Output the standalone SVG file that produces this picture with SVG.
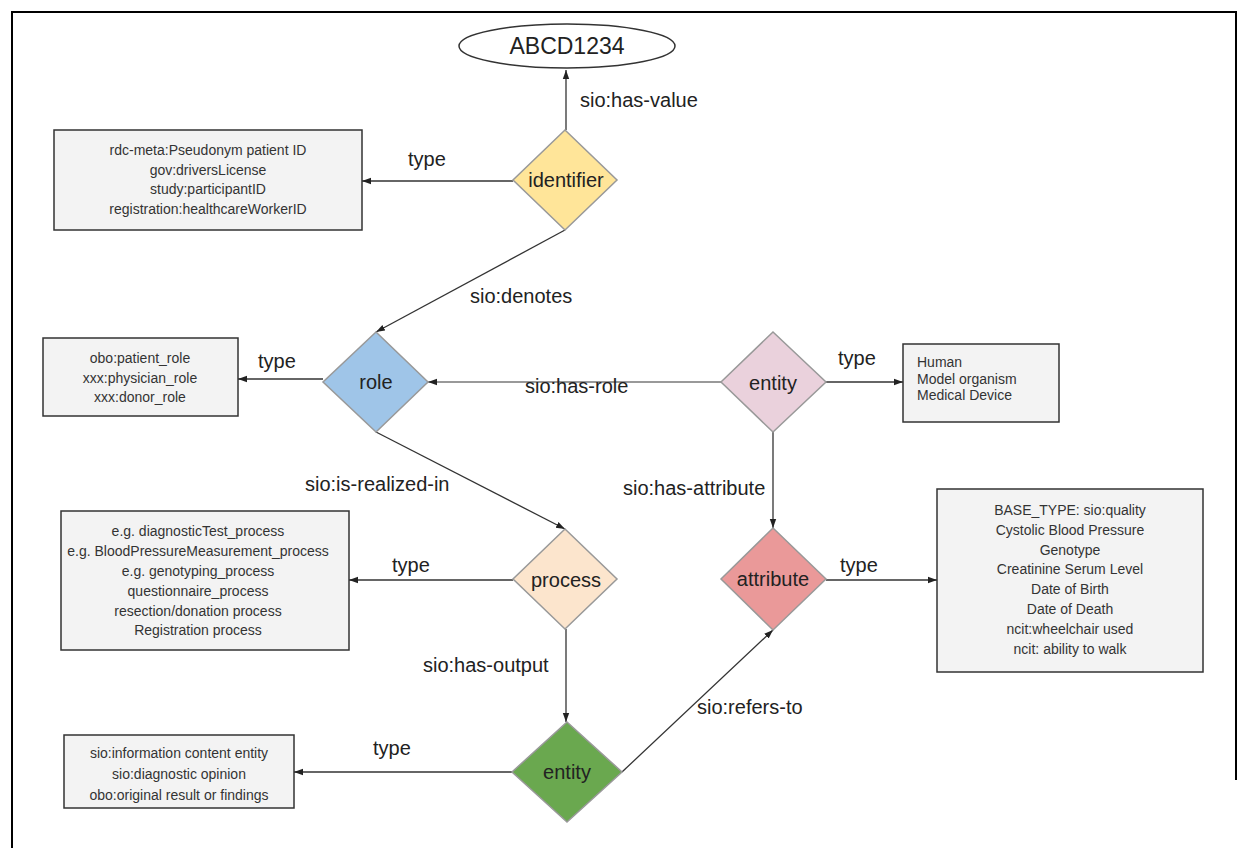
<svg xmlns="http://www.w3.org/2000/svg" width="1248" height="848" viewBox="0 0 1248 848">
<style>
text{font-family:"Liberation Sans",Arial,sans-serif;fill:#222}
.lbl{font-size:20px}
.dtx{font-size:20px;text-anchor:middle}
.btx{font-size:14px;fill:#333}
.c{text-anchor:middle}
.box{fill:#f3f3f3;stroke:#333;stroke-width:1.5}
.dia{stroke:#999;stroke-width:1.5}
.ln{fill:none;stroke:#333;stroke-width:1.3}
.ln2{fill:none;stroke:#777;stroke-width:1.3}
</style>
<defs>
<marker id="ah" markerUnits="userSpaceOnUse" markerWidth="10" markerHeight="8" refX="9" refY="4" orient="auto">
<path d="M0,0.8 L9,4 L0,7.2 Z" fill="#222"/>
</marker>
</defs>
<rect width="1248" height="848" fill="#fff"/>
<g id="frame" fill="none" stroke="#000" stroke-width="2">
<path d="M12,848 V12 H1236 V780"/>
</g>
<g id="connectors">
<line class="ln" x1="566" y1="130" x2="566" y2="70" marker-end="url(#ah)"/>
<line class="ln" x1="513" y1="181" x2="362" y2="181" marker-end="url(#ah)"/>
<line class="ln" x1="565" y1="230" x2="376" y2="332" marker-end="url(#ah)"/>
<line class="ln" x1="323" y1="379" x2="238" y2="379" marker-end="url(#ah)"/>
<line class="ln2" x1="721" y1="382" x2="428" y2="382" marker-end="url(#ah)"/>
<line class="ln" x1="826" y1="382" x2="903" y2="382" marker-end="url(#ah)"/>
<line class="ln" x1="773" y1="432" x2="773" y2="528" marker-end="url(#ah)"/>
<line class="ln" x1="826" y1="580" x2="937" y2="580" marker-end="url(#ah)"/>
<line class="ln" x1="376" y1="432" x2="565" y2="529" marker-end="url(#ah)"/>
<line class="ln" x1="513" y1="580" x2="349" y2="580" marker-end="url(#ah)"/>
<line class="ln" x1="566" y1="629" x2="566" y2="722" marker-end="url(#ah)"/>
<line class="ln" x1="512" y1="772" x2="294" y2="772" marker-end="url(#ah)"/>
<line class="ln" x1="622" y1="772" x2="773" y2="630" marker-end="url(#ah)"/>
<text class="lbl" x="580" y="107">sio:has-value</text>
<text class="lbl" x="408" y="166">type</text>
<text class="lbl" x="470" y="303">sio:denotes</text>
<text class="lbl" x="258" y="368">type</text>
<text class="lbl" x="525" y="393">sio:has-role</text>
<text class="lbl" x="838" y="365">type</text>
<text class="lbl" x="305" y="491">sio:is-realized-in</text>
<text class="lbl" x="623" y="495">sio:has-attribute</text>
<text class="lbl" x="392" y="572">type</text>
<text class="lbl" x="840" y="572">type</text>
<text class="lbl" x="423" y="672">sio:has-output</text>
<text class="lbl" x="697" y="714">sio:refers-to</text>
<text class="lbl" x="373" y="755">type</text>
</g>
<g id="value">
<ellipse cx="567" cy="46" rx="108" ry="22" fill="#fff" stroke="#333" stroke-width="1.5"/>
<text x="567" y="54" class="c" font-size="23">ABCD1234</text>
</g>
<g id="identifier">
<path class="dia" d="M565,130 L617,180 L565,230 L513,180 Z" fill="#ffe599"/>
<text class="dtx" x="566" y="187">identifier</text>
</g>
<g id="identifier-types">
<rect class="box" x="54" y="130" width="308" height="100"/>
<text class="btx c" x="208" y="155">rdc-meta:Pseudonym patient ID</text>
<text class="btx c" x="208" y="175">gov:driversLicense</text>
<text class="btx c" x="208" y="194">study:participantID</text>
<text class="btx c" x="208" y="214">registration:healthcareWorkerID</text>
</g>
<g id="role">
<path class="dia" d="M376,332 L428,382 L376,432 L323,382 Z" fill="#9fc5e8"/>
<text class="dtx" x="376" y="389">role</text>
</g>
<g id="role-types">
<rect class="box" x="43" y="338" width="195" height="78"/>
<text class="btx c" x="140" y="363">obo:patient_role</text>
<text class="btx c" x="140" y="383">xxx:physician_role</text>
<text class="btx c" x="140" y="402">xxx:donor_role</text>
</g>
<g id="entity">
<path class="dia" d="M773,332 L826,382 L773,432 L721,382 Z" fill="#ead1dc"/>
<text class="dtx" x="773" y="390">entity</text>
</g>
<g id="entity-types">
<rect class="box" x="903" y="344" width="156" height="78"/>
<text class="btx" x="917" y="367">Human</text>
<text class="btx" x="917" y="384">Model organism</text>
<text class="btx" x="917" y="400">Medical Device</text>
</g>
<g id="attribute">
<path class="dia" d="M773,528 L826,579 L773,630 L721,579 Z" fill="#ea9999"/>
<text class="dtx" x="773" y="586">attribute</text>
</g>
<g id="attribute-types">
<rect class="box" x="937" y="489" width="266" height="183"/>
<text class="btx c" x="1070" y="515">BASE_TYPE:  sio:quality</text>
<text class="btx c" x="1070" y="535">Cystolic Blood Pressure</text>
<text class="btx c" x="1070" y="555">Genotype</text>
<text class="btx c" x="1070" y="574">Creatinine Serum Level</text>
<text class="btx c" x="1070" y="594">Date of Birth</text>
<text class="btx c" x="1070" y="614">Date of Death</text>
<text class="btx c" x="1070" y="634">ncit:wheelchair used</text>
<text class="btx c" x="1070" y="654">ncit: ability to walk</text>
</g>
<g id="process">
<path class="dia" d="M565,529 L617,579 L565,629 L513,579 Z" fill="#fce5cd"/>
<text class="dtx" x="566" y="587" font-size="22">process</text>
</g>
<g id="process-types">
<rect class="box" x="61" y="511" width="288" height="139"/>
<text class="btx c" x="198" y="536">e.g. diagnosticTest_process</text>
<text class="btx c" x="198" y="556">e.g. BloodPressureMeasurement_process</text>
<text class="btx c" x="198" y="576">e.g. genotyping_process</text>
<text class="btx c" x="198" y="596">questionnaire_process</text>
<text class="btx c" x="198" y="616">resection/donation process</text>
<text class="btx c" x="198" y="635">Registration process</text>
</g>
<g id="output-entity">
<path class="dia" d="M567,722 L622,772 L567,822 L512,772 Z" fill="#6aa84f"/>
<text class="dtx" x="567" y="779">entity</text>
</g>
<g id="output-types">
<rect class="box" x="64" y="735" width="230" height="73"/>
<text class="btx c" x="179" y="758">sio:information content entity</text>
<text class="btx c" x="179" y="779">sio:diagnostic opinion</text>
<text class="btx c" x="179" y="800">obo:original result or findings</text>
</g>
</svg>
